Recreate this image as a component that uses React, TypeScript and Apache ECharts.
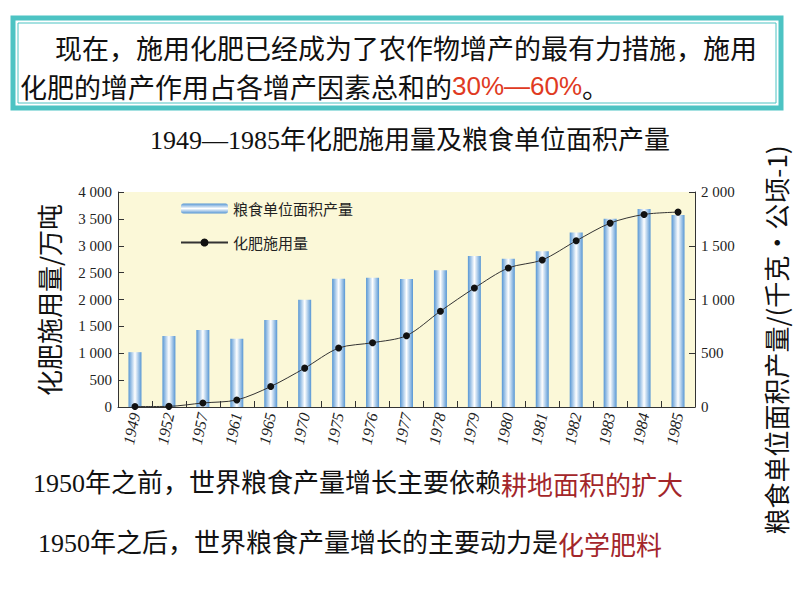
import React, { useEffect, useRef } from "react";
import * as echarts from "echarts";

const years = ["1949", "1952", "1957", "1961", "1965", "1970", "1975", "1976", "1977", "1978", "1979", "1980", "1981", "1982", "1983", "1984", "1985"];
// 粮食单位面积产量 (right axis, 千克/公顷)
const grainYield = [510, 660, 717, 636, 810, 997, 1193, 1203, 1190, 1271, 1405, 1380, 1449, 1623, 1751, 1841, 1785];
// 化肥施用量 (left axis, 万吨)
const fertilizer = [8, 12, 75, 131, 381, 723, 1097, 1196, 1327, 1783, 2213, 2587, 2736, 3092, 3421, 3583, 3626];
const leftTicks = { min: 0, max: 4000, interval: 500 };
const rightTicks = { min: 0, max: 2000, interval: 500 };

const fmt = (v: number) =>
  v >= 1000 ? `${Math.floor(v / 1000)} ${String(v % 1000).padStart(3, "0")}` : `${v}`;

const SERIF = "'Liberation Serif', 'Noto Sans CJK SC'";
const CJK = "'Noto Sans CJK SC'";

export default function App() {
  const ref = useRef<HTMLDivElement>(null);
  useEffect(() => {
    if (!ref.current) return;
    const chart = echarts.init(ref.current, undefined, { renderer: "svg" });
    const barGrad = new echarts.graphic.LinearGradient(0, 0, 1, 0, [
      { offset: 0, color: "#5696D4" },
      { offset: 0.5, color: "#FFFFFF" },
      { offset: 1, color: "#5696D4" },
    ]);
    const legendGrad = new echarts.graphic.LinearGradient(0, 0, 0, 1, [
      { offset: 0, color: "#5696D4" },
      { offset: 0.5, color: "#FFFFFF" },
      { offset: 1, color: "#5696D4" },
    ]);
    const axisCommon = {
      axisLine: { show: true, lineStyle: { color: "#333", width: 1 } },
      axisTick: { show: true, inside: true, length: 6, lineStyle: { color: "#333" } },
      splitLine: { show: false },
      axisLabel: { formatter: fmt, fontFamily: SERIF, fontSize: 15, color: "#222", margin: 6 },
    };
    chart.setOption({
      animation: false,
      backgroundColor: "#ffffff",
      grid: {
        left: 118,
        right: 99,
        top: 192,
        bottom: 189,
        show: true,
        backgroundColor: "#FBF8D8",
        borderWidth: 0,
      },
      legend: {
        orient: "vertical",
        left: 175,
        top: 196,
        itemWidth: 47,
        itemHeight: 10,
        itemGap: 19,
        textStyle: { fontSize: 15, fontFamily: CJK, color: "#222" },
        data: [
          { name: "粮食单位面积产量", itemStyle: { color: legendGrad } },
          { name: "化肥施用量" },
        ],
      },
      xAxis: {
        type: "category",
        data: years,
        boundaryGap: true,
        axisLine: { lineStyle: { color: "#333", width: 1 } },
        axisTick: { show: true, inside: true, length: 6, lineStyle: { color: "#333" } },
        axisLabel: {
          interval: 0,
          rotate: 78,
          fontStyle: "italic",
          fontFamily: SERIF,
          fontSize: 16,
          color: "#222",
          margin: 6,
        },
      },
      yAxis: [
        { type: "value", position: "left", ...leftTicks, ...axisCommon },
        { type: "value", position: "right", ...rightTicks, ...axisCommon },
      ],
      series: [
        {
          name: "粮食单位面积产量",
          type: "bar",
          yAxisIndex: 1,
          barWidth: 13,
          itemStyle: { color: barGrad },
          data: grainYield,
        },
        {
          name: "化肥施用量",
          type: "line",
          yAxisIndex: 0,
          smooth: 0.3,
          symbol: "circle",
          symbolSize: 7,
          itemStyle: { color: "#111" },
          lineStyle: { color: "#333", width: 1 },
          data: fertilizer,
        },
      ],
      graphic: [
        {
          type: "rect",
          shape: { x: 13, y: 18, width: 768, height: 90 },
          style: { fill: "#fff", stroke: "#4DC3C3", lineWidth: 5 },
        },
        {
          type: "rect",
          shape: { x: 18, y: 23, width: 758, height: 80 },
          style: { fill: "none", stroke: "#4DC3C3", lineWidth: 1 },
        },
        {
          type: "text",
          x: 55,
          y: 47,
          style: {
            text: "现在，施用化肥已经成为了农作物增产的最有力措施，施用",
            font: `27px ${CJK}`,
            fill: "#111",
            verticalAlign: "middle",
          },
        },
        {
          type: "text",
          x: 20,
          y: 86,
          style: {
            text: "化肥的增产作用占各增产因素总和的{r|30%—60%}。",
            font: `27px ${CJK}`,
            fill: "#111",
            verticalAlign: "middle",
            rich: { r: { fill: "#E03A22", font: `26px 'Liberation Sans Narrow', 'Liberation Sans'` } },
          },
        },
        {
          type: "text",
          x: 410,
          y: 140,
          style: {
            text: "1949—1985年化肥施用量及粮食单位面积产量",
            font: `26px ${SERIF}`,
            fill: "#111",
            align: "center",
            verticalAlign: "middle",
          },
        },
        {
          type: "text",
          x: 48,
          y: 300,
          rotation: Math.PI / 2,
          style: {
            text: "化肥施用量/万吨",
            font: `26px ${CJK}`,
            fill: "#111",
            align: "center",
            verticalAlign: "middle",
          },
        },
        {
          type: "text",
          x: 775,
          y: 340,
          rotation: Math.PI / 2,
          style: {
            text: "粮食单位面积产量/(千克•公顷-1)",
            font: `26px ${CJK}`,
            fill: "#111",
            align: "center",
            verticalAlign: "middle",
          },
        },
        {
          type: "text",
          x: 33,
          y: 483,
          style: {
            text: "1950年之前，世界粮食产量增长主要依赖{r|耕地面积的扩大}",
            font: `26px ${SERIF}`,
            fill: "#111",
            verticalAlign: "middle",
            rich: { r: { fill: "#A3262A", font: `26px ${CJK}` } },
          },
        },
        {
          type: "text",
          x: 38,
          y: 543,
          style: {
            text: "1950年之后，世界粮食产量增长的主要动力是{r|化学肥料}",
            font: `26px ${SERIF}`,
            fill: "#111",
            verticalAlign: "middle",
            rich: { r: { fill: "#A3262A", font: `26px ${CJK}` } },
          },
        },
      ],
    });
    return () => chart.dispose();
  }, []);
  return (
    <div
      ref={ref}
      style={{ position: "absolute", left: 0, top: 0, width: 794, height: 596 }}
    />
  );
}
